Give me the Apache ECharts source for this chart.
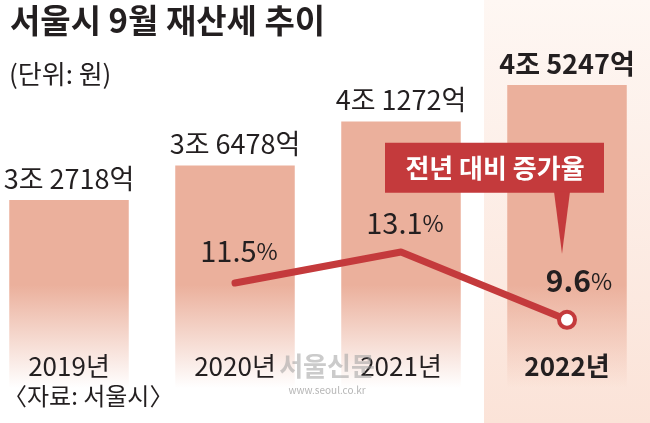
<!DOCTYPE html>
<html>
<head>
<meta charset="utf-8">
<script src="https://cdn.jsdelivr.net/npm/echarts@6/dist/echarts.min.js"></script>
<style>
html,body{margin:0;padding:0;background:#fff;}
#chart{width:650px;height:423px;}
</style>
</head>
<body>
<div id="chart"></div>
<script>
// ---- data ----
const categories = ['2019년', '2020년', '2021년', '2022년'];
const taxValues = [32718, 36478, 41272, 45247];   // 억원
const growthRates = [null, 11.5, 13.1, 9.6];       // 전년 대비 증가율 (%)
const titleText = '서울시 9월 재산세 추이';
const unitText = '(단위: 원)';
const sourceText = '〈자료: 서울시〉';
const calloutText = '전년 대비 증가율';

// ---- styling ----
const FONT = '"Noto Sans CJK KR", sans-serif';
const DARK = '#231f20';
const RED = '#c43a3c';
const BAR = '#ebb09c';
const last = categories.length - 1;
const taxMin = 8426, taxMax = 54505;
const rateMin = 4.274, rateMax = 26.106;

const chart = echarts.init(document.getElementById('chart'), null, {renderer: 'canvas'});

function fmtTax(v) {
  return Math.floor(v / 10000) + '조 ' + (v % 10000) + '억';
}

const option = {
  animation: false,
  backgroundColor: '#ffffff',
  title: [
    {text: titleText, left: 5, top: -1,
     textStyle: {fontSize: 33, fontWeight: 'bold', color: DARK, fontFamily: FONT}},
    {text: unitText, left: 4, top: 56,
     textStyle: {fontSize: 26, fontWeight: 'normal', color: DARK, fontFamily: FONT}},
    {text: sourceText, left: -2, top: 379,
     textStyle: {fontSize: 24, fontWeight: 'normal', color: DARK, fontFamily: FONT}}
  ],
  grid: {left: -14, right: 0, top: 0, bottom: 0, containLabel: false, outerBoundsMode: 'none'},
  xAxis: [
    {type: 'category', data: categories, axisLine: {show: false}, axisTick: {show: false},
     splitLine: {show: false}, z: 10,
     axisLabel: {inside: true, margin: 44, fontSize: 26, color: DARK, fontFamily: FONT,
       formatter: function (v, i) { return i === last ? '{b|' + v + '}' : '{r|' + v + '}'; },
       rich: {
         r: {fontSize: 26, color: DARK, fontFamily: FONT},
         b: {fontSize: 26, fontWeight: 'bold', color: DARK, fontFamily: FONT}}}},
    {type: 'category', data: categories, show: false}
  ],
  yAxis: [
    {type: 'value', min: taxMin, max: taxMax, show: false},
    {type: 'value', min: rateMin, max: rateMax, show: false}
  ],
  series: [
    { // highlight band behind latest year
      type: 'bar', xAxisIndex: 1, yAxisIndex: 0, silent: true, z: 1,
      barCategoryGap: '0%',
      data: categories.map((c, i) => i === last ? taxMax : null),
      itemStyle: {color: new echarts.graphic.LinearGradient(0, 0, 0, 423, [
        {offset: 0, color: '#fef7f3'}, {offset: 1, color: '#fbe3d8'}], true)}
    },
    {
      type: 'bar', xAxisIndex: 0, yAxisIndex: 0, z: 2,
      barWidth: '72%',
      data: taxValues,
      itemStyle: {color: new echarts.graphic.LinearGradient(0, 285, 0, 388, [
        {offset: 0, color: BAR}, {offset: 1, color: 'rgba(235,176,156,0)'}], true)},
      label: {
        show: true, position: 'top', distance: 8,
        fontSize: 27, color: DARK, fontFamily: FONT,
        formatter: function (p) {
          return p.dataIndex === last ? '{b|' + fmtTax(p.value) + '}' : fmtTax(p.value);
        },
        rich: {b: {fontSize: 27, fontWeight: 'bold', color: DARK, fontFamily: FONT}}
      }
    },
    {
      type: 'line', xAxisIndex: 0, yAxisIndex: 1, z: 5,
      data: growthRates.map((v, i) => ({
        value: v,
        symbol: 'circle',
        symbolSize: i === last ? 16 : 1,
        itemStyle: i === last ? {} : {color: RED, borderWidth: 0},
        label: i === last
          ? {offset: [12, 0], distance: 14,
             formatter: function (p) { return '{nb|' + p.value + '}{pb|%}'; }}
          : {offset: [4, 0], distance: i === 1 ? 17 : 14}
      })),
      showSymbol: true,
      lineStyle: {color: RED, width: 7, cap: 'round', join: 'round'},
      itemStyle: {color: '#ffffff', borderColor: RED, borderWidth: 4},
      label: {
        show: true, position: 'top', color: DARK, fontFamily: FONT,
        formatter: function (p) { return '{n|' + p.value + '}{p|%}'; },
        rich: {
          n: {fontSize: 29, color: DARK, fontFamily: FONT},
          p: {fontSize: 23, color: DARK, fontFamily: FONT},
          nb: {fontSize: 30, fontWeight: 'bold', color: DARK, fontFamily: FONT},
          pb: {fontSize: 23, color: DARK, fontFamily: FONT}
        }
      }
    }
  ]
};

chart.setOption(option);

// callout anchored to latest growth-rate point
const pt = chart.convertToPixel({seriesIndex: 2}, [last, growthRates[last]]);
chart.setOption({
  graphic: [
    {type: 'rect', z: 20, silent: true,
     shape: {x: pt[0] - 182, y: pt[1] - 177, width: 219, height: 50},
     style: {fill: RED}},
    {type: 'polygon', z: 20, silent: true,
     shape: {points: [[pt[0] - 13, pt[1] - 128], [pt[0] + 3, pt[1] - 128], [pt[0] - 5, pt[1] - 66]]},
     style: {fill: RED}},
    {type: 'text', z: 21, silent: true,
     style: {text: calloutText, x: pt[0] - 72, y: pt[1] - 152, align: 'center', verticalAlign: 'middle',
       fill: '#ffffff', font: 'bold 26px ' + FONT}},
    // publisher watermark
    {type: 'text', z: 30, silent: true,
     style: {text: '서울신문', x: 327, y: 366, align: 'center', verticalAlign: 'middle',
       fill: 'rgba(160,160,160,0.55)', font: 'bold 26px ' + FONT}},
    {type: 'text', z: 30, silent: true,
     style: {text: 'www.seoul.co.kr', x: 327, y: 390, align: 'center', verticalAlign: 'middle',
       fill: 'rgba(150,150,150,0.7)', font: '10px ' + FONT}}
  ]
});
</script>
</body>
</html>
